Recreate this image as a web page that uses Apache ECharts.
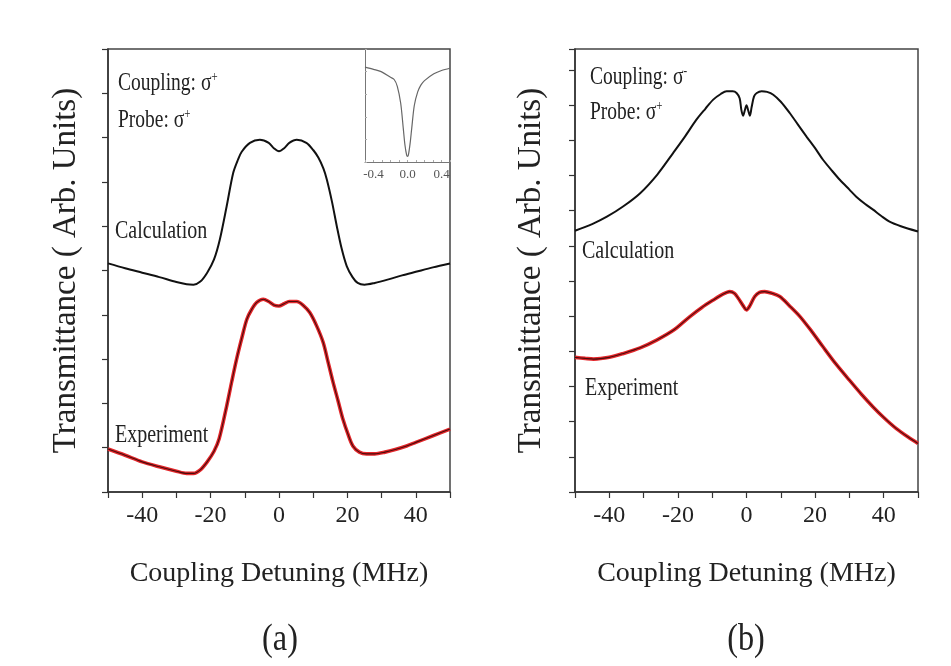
<!DOCTYPE html>
<html>
<head>
<meta charset="utf-8">
<script src="https://cdn.jsdelivr.net/npm/echarts@6/dist/echarts.min.js"></script>
<style>
html,body{margin:0;padding:0;background:#fff;}
#main{width:951px;height:666px;}
</style>
</head>
<body>
<div id="main"></div>
<script>
// 面板 (a)：计算 / 实验
var detCalcA = [-50,-45,-40,-35,-30,-27,-25,-23,-21,-19,-17.3,-15.3,-13.4,-12,-10.9,-8.5,-5.6,-3,-1.5,0,1.5,3,5.2,8,10,11.5,13,14,15.5,16.9,18.3,19.8,21.5,23,25,28,32,36,40,45,50];
var calcA    = [5.16,5.05,4.95,4.85,4.74,4.69,4.68,4.75,4.95,5.25,5.7,6.45,7.2,7.5,7.68,7.88,7.95,7.88,7.76,7.69,7.76,7.88,7.95,7.88,7.72,7.55,7.3,7.05,6.55,6.0,5.5,5.1,4.85,4.72,4.68,4.72,4.8,4.89,4.97,5.07,5.16];
var detExpA  = [-50,-45,-40,-35,-30,-27,-25,-23,-21,-19,-17.5,-15.3,-13.8,-12.4,-10.8,-9.4,-8,-6.5,-4.6,-3,-1.5,0,1.5,3,5.2,7,9,11,12.9,14.3,15.8,17.3,18.7,20.2,21.6,23.5,25.6,28,31,34,37.3,40,45,50];
var expA     = [0.97,0.83,0.68,0.57,0.47,0.42,0.42,0.5,0.68,0.92,1.2,1.94,2.5,3.0,3.5,3.9,4.12,4.28,4.35,4.3,4.22,4.2,4.25,4.3,4.3,4.22,4.05,3.75,3.38,2.95,2.48,2.05,1.64,1.3,1.04,0.9,0.86,0.86,0.9,0.96,1.04,1.12,1.27,1.42];
// 插图
var detInset = [-0.5,-0.4,-0.31,-0.2,-0.157,-0.12,-0.08,-0.05,-0.03,-0.01,0,0.01,0.03,0.05,0.08,0.12,0.157,0.2,0.31,0.4,0.5];
var inset    = [0.84,0.82,0.80,0.75,0.73,0.67,0.52,0.3,0.15,0.06,0.05,0.06,0.16,0.3,0.5,0.62,0.68,0.72,0.78,0.81,0.83];
// 面板 (b)
var detCalcB = [-50,-45,-40.7,-36,-31,-26,-21.4,-18,-14.6,-12,-9.7,-7.5,-5.8,-4,-2.9,-2,-1.5,-1,-0.5,0,0.5,1,1.5,2.2,3,4.4,6,7.8,10,12.6,15,17.5,20,22.3,25,27.2,30,32,34.5,36.9,39.3,41.7,45,50];
var calcB    = [7.43,7.62,7.83,8.12,8.5,9.03,9.64,10.1,10.59,10.9,11.16,11.32,11.4,11.4,11.35,11.2,10.87,10.7,10.85,11.0,10.85,10.7,10.95,11.25,11.35,11.4,11.38,11.3,11.1,10.78,10.45,10.11,9.78,9.45,9.13,8.88,8.6,8.4,8.2,8.03,7.85,7.69,7.56,7.41];
var detExpB  = [-50,-47,-44.6,-40,-35.9,-31,-26.2,-21,-16.5,-13,-9.7,-7,-4.9,-3.5,-2.4,-1,0,1,2.4,3.8,5.3,7.5,9.7,12.5,15.6,19,22.3,26,30,33.5,36.9,40,43.6,47,50];
var expB     = [3.83,3.8,3.78,3.83,3.94,4.1,4.32,4.62,4.99,5.25,5.46,5.62,5.70,5.65,5.51,5.3,5.18,5.3,5.56,5.68,5.70,5.65,5.56,5.3,4.99,4.57,4.13,3.65,3.18,2.78,2.42,2.12,1.81,1.57,1.38];
var xTickLabels = [-40,-20,0,20,40];
var insetTickLabels = [-0.4,0,0.4];

var FONT = 'Liberation Serif';

function zip(xs, ys){
	var out = [];
	for(var i=0;i<xs.length;i++){ out.push([xs[i], ys[i]]); }
	return out;
}

function mainX(idx){
	return {
		type:'value', gridIndex:idx, min:-50, max:50, interval:10, position:'bottom',
		name:'Coupling Detuning (MHz)', nameLocation:'middle', nameGap:68,
		nameTextStyle:{fontFamily:FONT, fontSize:28, color:'#222'},
		axisLine:{show:true, onZero:false, lineStyle:{color:'#333', width:1.5}},
		axisTick:{show:true, inside:false, length:6, lineStyle:{color:'#333', width:1.2}},
		axisLabel:{
			fontFamily:FONT, fontSize:24, color:'#222', margin:12,
			formatter:function(v){ return xTickLabels.indexOf(v) >= 0 ? String(v) : ''; }
		},
		splitLine:{show:false}
	};
}
function mainY(idx, max, gap){
	return {
		type:'value', gridIndex:idx, min:0, max:max, interval:1, position:'left',
		name:'Transmittance ( Arb. Units)', nameLocation:'middle', nameGap:gap, nameRotate:90,
		nameTextStyle:{fontFamily:FONT, fontSize:33, color:'#222'},
		axisLine:{show:true, onZero:false, lineStyle:{color:'#333', width:1.5}},
		axisTick:{show:true, inside:false, length:6, lineStyle:{color:'#333', width:1.2}},
		axisLabel:{show:false},
		splitLine:{show:false}
	};
}
function line(name, x, y, data, color, width, z){
	return {
		name:name, type:'line', xAxisIndex:x, yAxisIndex:y, data:data,
		showSymbol:false, smooth:0.3, z:z || 2,
		lineStyle:{color:color, width:width}, silent:true
	};
}
function txt(s, x, y, size, sx){
	return {
		type:'text', x:x, y:y, scaleX:sx || 0.8, z:50,
		style:{
			text:s, fontFamily:FONT, fontSize:size, fill:'#222',
			align:'left', verticalAlign:'middle',
			rich:{ sup:{fontFamily:FONT, fontSize:14, fill:'#222', verticalAlign:'top'} }
		}
	};
}

var option = {
	backgroundColor:'#fff',
	animation:false,
	grid:[
		{left:108, top:49, width:342, height:443, show:true, borderColor:'#444', borderWidth:1.5},
		{left:575, top:49, width:343, height:443, show:true, borderColor:'#444', borderWidth:1.5},
		{left:365, top:49, width:85, height:113, show:false}
	],
	xAxis:[
		mainX(0),
		mainX(1),
		{
			type:'value', gridIndex:2, min:-0.5, max:0.5, interval:0.1, position:'bottom',
			axisLine:{show:true, onZero:false, lineStyle:{color:'#777', width:1}},
			axisTick:{show:true, inside:true, length:2, lineStyle:{color:'#aaa'}},
			axisLabel:{
				fontFamily:FONT, fontSize:13, color:'#555', margin:6,
				formatter:function(v){
					for(var i=0;i<insetTickLabels.length;i++){
						if(Math.abs(v-insetTickLabels[i])<1e-6){ return insetTickLabels[i].toFixed(1); }
					}
					return '';
				}
			},
			splitLine:{show:false}
		}
	],
	yAxis:[
		mainY(0, 10, 25),
		mainY(1, 12.6, 27),
		{
			type:'value', gridIndex:2, min:0, max:1, interval:0.2, position:'left',
			axisLine:{show:true, onZero:false, lineStyle:{color:'#777', width:1}},
			axisTick:{show:true, inside:true, length:2, lineStyle:{color:'#aaa'}},
			axisLabel:{show:false},
			splitLine:{show:false}
		}
	],
	series:[
		line('Calculation (a)', 0, 0, zip(detCalcA, calcA), '#111', 2),
		line('Experiment (a)', 0, 0, zip(detExpA, expA), '#e3262a', 3.6),
		line('Experiment (a) core', 0, 0, zip(detExpA, expA), '#4a0c0c', 1.1, 3),
		line('Inset', 2, 2, zip(detInset, inset), '#666', 1.2),
		line('Calculation (b)', 1, 1, zip(detCalcB, calcB), '#111', 2),
		line('Experiment (b)', 1, 1, zip(detExpB, expB), '#e3262a', 3.6),
		line('Experiment (b) core', 1, 1, zip(detExpB, expB), '#4a0c0c', 1.1, 3)
	],
	graphic:[
		txt('Coupling: σ{sup|+}', 118, 83, 25, 0.78),
		txt('Probe: σ{sup|+}', 118, 120, 25, 0.78),
		txt('Calculation', 115, 231, 25),
		txt('Experiment', 115, 435, 25),
		txt('Coupling: σ{sup|-}', 590, 77, 25, 0.78),
		txt('Probe: σ{sup|+}', 590, 112, 25, 0.78),
		txt('Calculation', 582, 251, 25),
		txt('Experiment', 585, 388, 25),
		{type:'text', x:280, y:640, scaleX:0.85, style:{text:'(a)', fontFamily:FONT, fontSize:38, fill:'#222', align:'center', verticalAlign:'middle'}},
		{type:'text', x:746, y:640, scaleX:0.85, style:{text:'(b)', fontFamily:FONT, fontSize:38, fill:'#222', align:'center', verticalAlign:'middle'}}
	]
};

echarts.init(document.getElementById('main')).setOption(option);
</script>
</body>
</html>
